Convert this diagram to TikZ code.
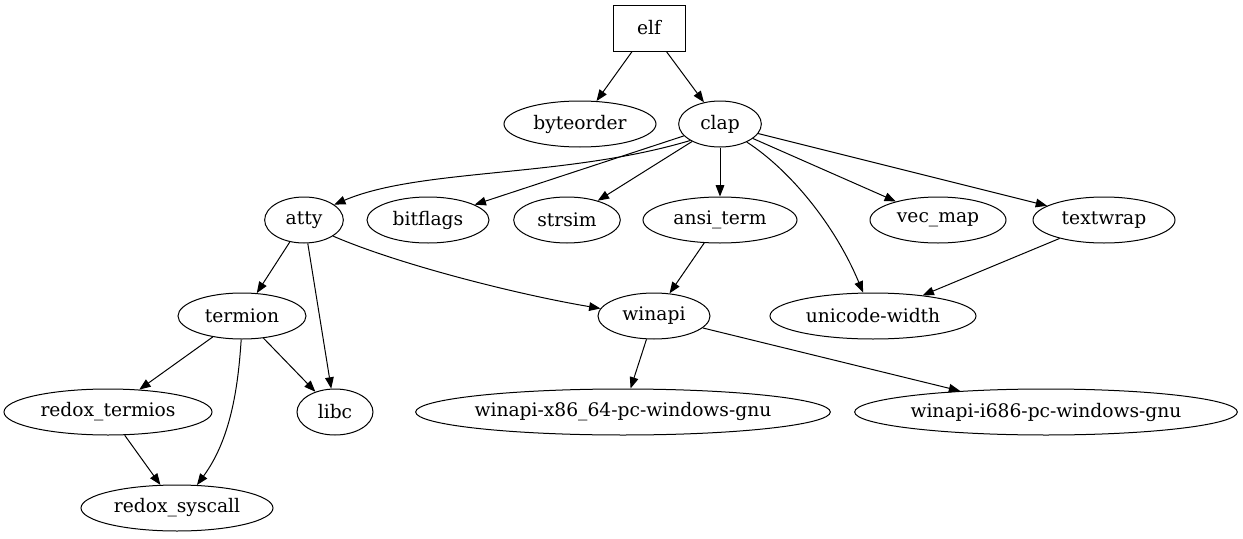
\documentclass[tikz,border=0pt]{standalone}
\usepackage{fontspec}
\setmainfont{DejaVu Serif}
\usetikzlibrary{shapes.geometric,arrows.meta}
\begin{document}
\begin{tikzpicture}[x=0.75pt,y=-0.75pt,
  every node/.style={font=\fontsize{14}{16}\selectfont, inner ysep=0pt, inner xsep=-3pt, line width=0.75pt},
  el/.style={draw, ellipse, minimum height=34.5pt},
  bx/.style={draw, rectangle, minimum width=54pt, minimum height=34.5pt},
  edge/.style={draw, line width=0.75pt, -{Triangle[length=8.5pt,width=6.5pt]}}]
\useasboundingbox (0,0) rectangle (1243,539);
\node[bx] (elf) at (649,28) {elf};
\node[el, minimum width=114pt] (byteorder) at (580,124) {byteorder};
\node[el, minimum width=62pt] (clap) at (720,124) {clap};
\node[el, minimum width=59pt] (atty) at (304,220) {atty};
\node[el, minimum width=91.5pt] (bitflags) at (428,220) {bitflags};
\node[el, minimum width=80pt] (strsim) at (567,220) {strsim};
\node[el, minimum width=115.5pt] (ansi) at (720,220) {ansi\_term};
\node[el, minimum width=102pt] (vecmap) at (938,220) {vec\_map};
\node[el, minimum width=106.5pt] (textwrap) at (1104,220) {textwrap};
\node[el, minimum width=96pt] (termion) at (242,316) {termion};
\node[el, minimum width=84pt] (winapi) at (654,316) {winapi};
\node[el, minimum width=154.5pt] (uw) at (873,316) {unicode-width};
\node[el, minimum width=156pt] (rt) at (108,412) {redox\_termios};
\node[el, minimum width=57pt] (libc) at (335,412) {libc};
\node[el, minimum width=311pt] (w64) at (623,412) {winapi-x86\_64-pc-windows-gnu};
\node[el, minimum width=287pt] (w686) at (1046,412) {winapi-i686-pc-windows-gnu};
\node[el, minimum width=144pt] (rs) at (177,508) {redox\_syscall};

\path[edge] (elf) -- (byteorder);
\path[edge] (elf) -- (clap);
\path[edge] (clap.209) .. controls (565,178) and (420,168) .. (atty.27);
\path[edge] (clap) -- (bitflags);
\path[edge] (clap) -- (strsim);
\path[edge] (clap) -- (ansi);
\path[edge] (clap.-34) .. controls (790,170) and (835,225) .. (uw.113);
\path[edge] (clap) -- (vecmap);
\path[edge] (clap) -- (textwrap);
\path[edge] (textwrap) -- (uw);
\path[edge] (ansi) -- (winapi);
\path[edge] (atty) -- (termion);
\path[edge] (atty) -- (libc);
\path[edge] (atty.-29) .. controls (400,265) and (520,295) .. (winapi.172);
\path[edge] (termion) -- (rt);
\path[edge] (termion) -- (libc);
\path[edge] (termion.-92) .. controls (238,390) and (230,440) .. (rs.49);
\path[edge] (rt) -- (rs);
\path[edge] (winapi) -- (w64);
\path[edge] (winapi) -- (w686);
\end{tikzpicture}
\end{document}
